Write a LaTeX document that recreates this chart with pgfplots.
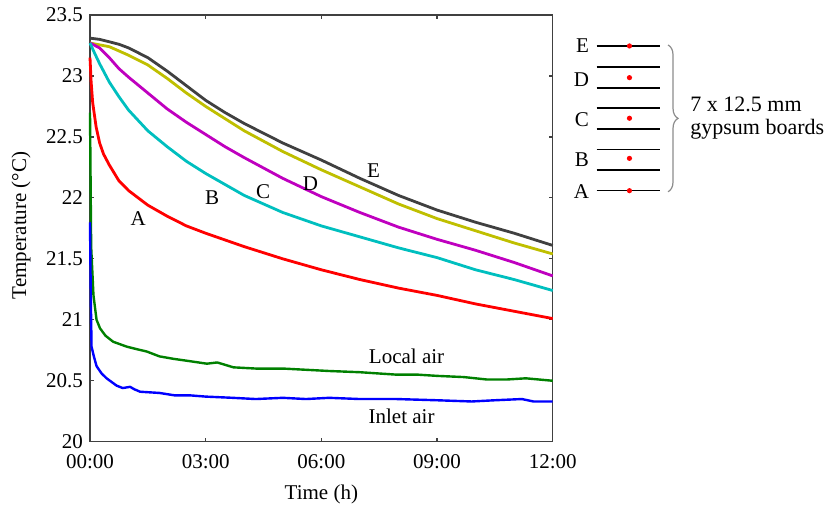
\documentclass[border=0pt]{standalone}
\usepackage{fontspec}
\setmainfont{Liberation Serif}
\usepackage{pgfplots}
\pgfplotsset{compat=1.18}
\usetikzlibrary{decorations.pathreplacing}
\definecolor{cE}{rgb}{0.25,0.25,0.25}
\definecolor{cD}{rgb}{0.75,0.75,0}
\definecolor{cC}{rgb}{0.75,0,0.75}
\definecolor{cB}{rgb}{0,0.75,0.75}
\definecolor{cA}{rgb}{1,0,0}
\definecolor{cL}{rgb}{0,0.5,0}
\definecolor{cI}{rgb}{0,0,1}
\begin{document}
\begin{tikzpicture}
\begin{axis}[
  scale only axis, width=231.35pt, height=213.35pt,
  xmin=0, xmax=12, ymin=20, ymax=23.5,
  xtick={0,3,6,9,12}, xticklabels={00:00,03:00,06:00,09:00,12:00},
  ytick={20,20.5,21,21.5,22,22.5,23,23.5},
  /pgf/number format/assume math mode=true,
  tick label style={font=\fontsize{10.5}{12}\selectfont},
  xticklabel style={yshift=-3pt},
  label style={font=\fontsize{10.5}{12}\selectfont},
  xlabel={Time (h)}, ylabel={Temperature (°C)},
  xlabel style={at={(axis description cs:0.5,-0.085)}, anchor=north},
  ylabel style={at={(axis description cs:-0.113,0.507)}, anchor=south},
  major tick length=2pt,
  axis line style={black!75, line width=0.7pt},
  tick style={black!75, line width=0.6pt},
  clip=false,
  every axis plot/.append style={line width=1.4pt, line join=round},
]
% E (black)
\addplot[cE] coordinates {(0,23.31)(0.25,23.30)(0.5,23.28)(0.75,23.26)(1,23.23)(1.5,23.15)(2,23.04)(2.5,22.92)(3,22.80)(3.5,22.70)(4,22.61)(5,22.45)(6,22.31)(7,22.16)(8,22.02)(9,21.90)(10,21.80)(11,21.71)(12,21.61)};
% D (yellow)
\addplot[cD] coordinates {(0,23.27)(0.5,23.24)(1,23.17)(1.5,23.09)(2,22.98)(2.5,22.86)(3,22.75)(3.5,22.65)(4,22.55)(5,22.38)(6,22.23)(7,22.09)(8,21.95)(9,21.83)(10,21.73)(11,21.63)(12,21.54)};
% C (magenta)
\addplot[cC] coordinates {(0,23.27)(0.25,23.23)(0.5,23.15)(0.75,23.06)(1,22.99)(1.5,22.86)(2,22.73)(2.5,22.62)(3,22.52)(3.5,22.42)(4,22.33)(5,22.16)(6,22.01)(7,21.88)(8,21.76)(9,21.66)(10,21.57)(11,21.47)(12,21.36)};
% B (cyan)
\addplot[cB] coordinates {(0,23.27)(0.1,23.20)(0.25,23.10)(0.5,22.95)(0.75,22.83)(1,22.72)(1.5,22.55)(2,22.42)(2.5,22.30)(3,22.20)(4,22.02)(5,21.88)(6,21.77)(7,21.68)(8,21.59)(9,21.51)(10,21.41)(11,21.33)(12,21.24)};
% A (red)
\addplot[cA] coordinates {(0,23.15)(0.03,22.95)(0.07,22.78)(0.16,22.58)(0.25,22.45)(0.35,22.36)(0.5,22.27)(0.75,22.14)(1,22.06)(1.5,21.94)(2,21.85)(2.5,21.77)(3,21.71)(4,21.60)(5,21.50)(6,21.41)(7,21.33)(8,21.26)(9,21.20)(10,21.13)(11,21.07)(12,21.01)};
% Local air (green)
\addplot[cL, line width=1.2pt] coordinates {(0,22.7)(0.03,21.6)(0.09,21.2)(0.17,21.0)(0.26,20.93)(0.4,20.87)(0.6,20.82)(0.95,20.78)(1.2,20.76)(1.47,20.74)(1.8,20.70)(2.16,20.68)(2.6,20.66)(3.03,20.64)(3.3,20.65)(3.72,20.61)(4.3,20.60)(5,20.60)(5.6,20.59)(6.2,20.58)(7,20.57)(7.95,20.55)(8.5,20.55)(9,20.54)(9.7,20.53)(10.3,20.51)(10.8,20.51)(11.3,20.52)(12,20.50)};
% Inlet air (blue)
\addplot[cI, line width=1.2pt] coordinates {(0,21.8)(0.02,21.2)(0.04,20.78)(0.1,20.70)(0.17,20.62)(0.3,20.56)(0.43,20.52)(0.69,20.46)(0.85,20.44)(1.04,20.45)(1.15,20.43)(1.3,20.41)(1.8,20.40)(2.2,20.38)(2.6,20.38)(3.0,20.37)(3.7,20.36)(4.3,20.35)(5,20.36)(5.6,20.35)(6.2,20.36)(7,20.35)(7.95,20.35)(9,20.34)(9.9,20.33)(10.5,20.34)(11.2,20.35)(11.5,20.33)(12,20.33)};
% curve labels
\node[font=\fontsize{10.5}{12}\selectfont] at (axis cs:1.25,21.83) {A};
\node[font=\fontsize{10.5}{12}\selectfont] at (axis cs:3.17,22.00) {B};
\node[font=\fontsize{10.5}{12}\selectfont] at (axis cs:4.49,22.05) {C};
\node[font=\fontsize{10.5}{12}\selectfont] at (axis cs:5.72,22.12) {D};
\node[font=\fontsize{10.5}{12}\selectfont] at (axis cs:7.35,22.22) {E};
\node[font=\fontsize{10.5}{12}\selectfont] at (axis cs:8.21,20.70) {Local air};
\node[font=\fontsize{10.5}{12}\selectfont] at (axis cs:8.08,20.205) {Inlet air};
% board diagram
\draw[black, line width=0.8pt] (axis cs:13.14,23.246) -- (axis cs:14.78,23.246);
\draw[black, line width=0.8pt] (axis cs:13.14,23.071) -- (axis cs:14.78,23.071);
\draw[black, line width=0.8pt] (axis cs:13.14,22.899) -- (axis cs:14.78,22.899);
\draw[black, line width=0.8pt] (axis cs:13.14,22.735) -- (axis cs:14.78,22.735);
\draw[black, line width=0.8pt] (axis cs:13.14,22.565) -- (axis cs:14.78,22.565);
\draw[black, line width=0.8pt] (axis cs:13.14,22.398) -- (axis cs:14.78,22.398);
\draw[black, line width=0.8pt] (axis cs:13.14,22.228) -- (axis cs:14.78,22.228);
\draw[black, line width=0.8pt] (axis cs:13.14,22.059) -- (axis cs:14.78,22.059);
\fill[red] (axis cs:13.99,23.246) circle (1.3pt);
\fill[red] (axis cs:13.99,22.986) circle (1.3pt);
\fill[red] (axis cs:13.99,22.653) circle (1.3pt);
\fill[red] (axis cs:13.99,22.324) circle (1.3pt);
\fill[red] (axis cs:13.99,22.059) circle (1.3pt);
\node[anchor=east, inner sep=0pt, font=\fontsize{10.5}{12}\selectfont] at (axis cs:12.95,23.246) {E};
\node[anchor=east, inner sep=0pt, font=\fontsize{10.5}{12}\selectfont] at (axis cs:12.95,22.967) {D};
\node[anchor=east, inner sep=0pt, font=\fontsize{10.5}{12}\selectfont] at (axis cs:12.95,22.644) {C};
\node[anchor=east, inner sep=0pt, font=\fontsize{10.5}{12}\selectfont] at (axis cs:12.95,22.31) {B};
\node[anchor=east, inner sep=0pt, font=\fontsize{10.5}{12}\selectfont] at (axis cs:12.95,22.05) {A};
\draw[black!45, line width=0.6pt, decorate, decoration={brace, amplitude=5pt}] (axis cs:14.99,23.254) -- (axis cs:14.99,22.05);
\node[anchor=base west, inner sep=0pt, font=\fontsize{11}{13}\selectfont] at (axis cs:15.56,22.707) {7 x 12.5 mm};
\node[anchor=base west, inner sep=0pt, font=\fontsize{11}{13}\selectfont] at (axis cs:15.56,22.516) {gypsum boards};
\coordinate (bbl) at (axis cs:-2.334,19.472);
\coordinate (btr) at (axis cs:19.346,23.623);
\end{axis}
\pgfresetboundingbox
\path (bbl) rectangle (btr);
\end{tikzpicture}
\end{document}
